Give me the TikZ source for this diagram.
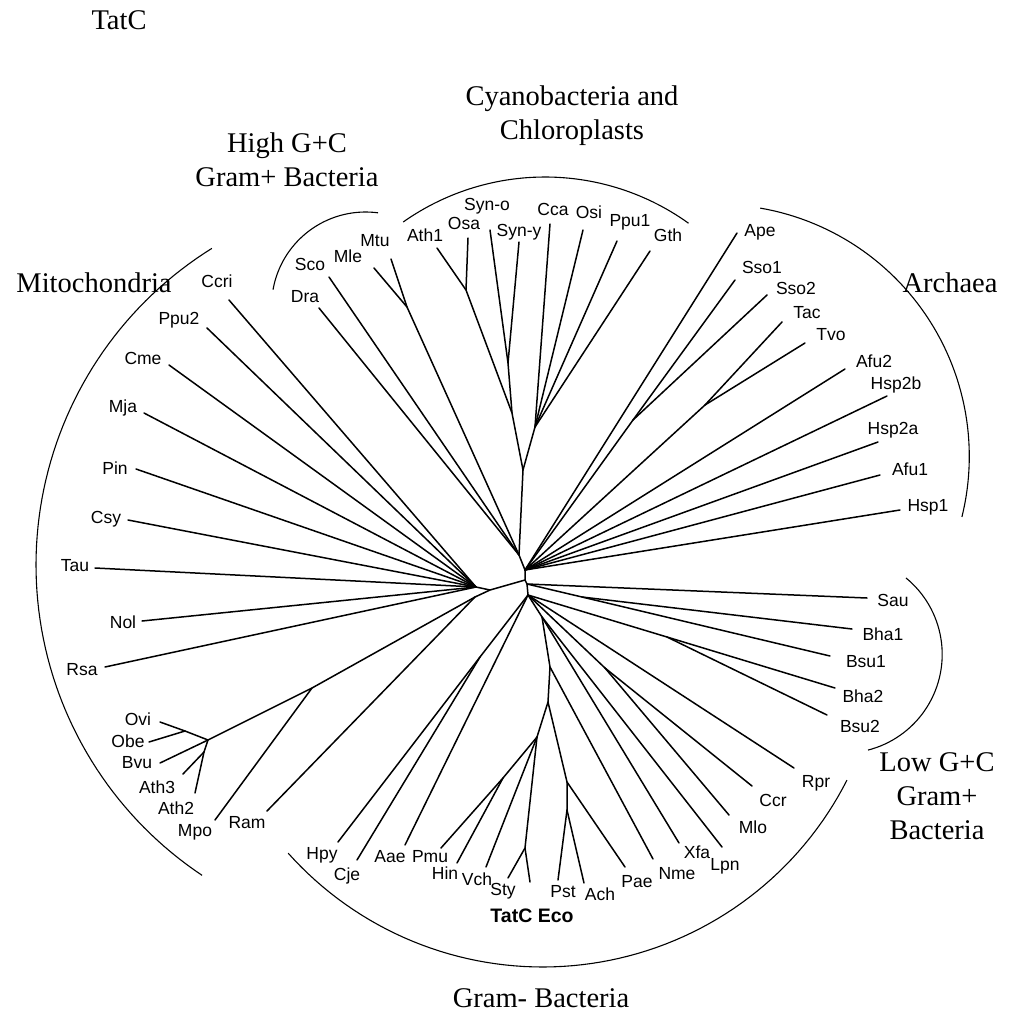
\documentclass[tikz,border=0pt]{standalone}
\usepackage{fontspec}
\setmainfont{Liberation Serif}
\newfontfamily\labfont{Liberation Sans}
\newcommand\tipnode[3]{\coordinate (t#1) at #2; \node[lbl] (#1) at #3 {#1};}
\begin{document}
\begin{tikzpicture}[x=1pt,y=-1pt,
  tree/.style={line width=1.5pt,line cap=round,line join=round},
  grp/.style={line width=1.1pt},
  lbl/.style={font=\labfont\fontsize{17.5}{20}\selectfont,inner sep=0pt},
  ttl/.style={font=\fontsize{28.5}{34}\selectfont,align=center,inner sep=0pt}]
\useasboundingbox (0,0) rectangle (1013,1018);
% internal nodes
\coordinate (C) at (523,470);
\coordinate (U) at (519,555);
\coordinate (A) at (525,570);
\coordinate (X) at (525,580);
\coordinate (X1) at (527,584);
\coordinate (Y) at (528,595);
\coordinate (L) at (490,590);
\coordinate (M) at (476,587);
\coordinate (RM) at (475,597);
\coordinate (MP) at (312,688);
\coordinate (OB) at (208,740);
\coordinate (OO) at (185,731);
\coordinate (AA) at (204,752);
\coordinate (MM) at (407,307);
\coordinate (AO) at (466,290);
\coordinate (SS) at (508,363);
\coordinate (AOS) at (512,413);
\coordinate (CG) at (535,427);
\coordinate (SSO) at (633,420);
\coordinate (TT) at (705,405);
\coordinate (HC) at (480,657);
\coordinate (T1) at (542,617);
\coordinate (T2) at (550,667);
\coordinate (N1) at (548,702);
\coordinate (G) at (537,737);
\coordinate (PH) at (503,778);
\coordinate (SE) at (525,848);
\coordinate (N2) at (567,782);
\coordinate (N3) at (567,810);
\coordinate (MC) at (605,668);
\coordinate (BB1) at (582,597);
\coordinate (BB2) at (667,637);
% tips and labels
\tipnode{Dra}{(319,308)}{(305,297)}
\tipnode{Sco}{(329,277)}{(310,264)}
\tipnode{Mle}{(374,268)}{(348,256)}
\tipnode{Mtu}{(391,259)}{(375,241)}
\tipnode{Ath1}{(437,248)}{(425,235)}
\tipnode{Osa}{(468,238)}{(464,223)}
\tipnode{Syn-o}{(490,230)}{(487,206)}
\tipnode{Syn-y}{(519,242)}{(519,232)}
\tipnode{Cca}{(550,224)}{(553,209)}
\tipnode{Osi}{(583,230)}{(589,212)}
\tipnode{Ppu1}{(617,241)}{(630,222)}
\tipnode{Gth}{(650,251)}{(668,235)}
\tipnode{Ape}{(737,233)}{(760,232)}
\tipnode{Sso1}{(735,280)}{(762,267)}
\tipnode{Sso2}{(767,295)}{(796,288)}
\tipnode{Tac}{(782,322)}{(807,313)}
\tipnode{Tvo}{(805,343)}{(831,335)}
\tipnode{Afu2}{(845,369)}{(874,361)}
\tipnode{Hsp2b}{(887,396)}{(896,385)}
\tipnode{Hsp2a}{(878,442)}{(893,430)}
\tipnode{Afu1}{(880,475)}{(910,469)}
\tipnode{Hsp1}{(900,510)}{(928,507)}
\tipnode{Sau}{(867,598)}{(893,600)}
\tipnode{Bha1}{(852,629)}{(883,634)}
\tipnode{Bsu1}{(830,656)}{(866,662)}
\tipnode{Bha2}{(835,688)}{(863,696)}
\tipnode{Bsu2}{(827,715)}{(860,726)}
\tipnode{Rpr}{(794,768)}{(816,783)}
\tipnode{Ccr}{(752,786)}{(773,800)}
\tipnode{Mlo}{(729,815)}{(753,827)}
\tipnode{Lpn}{(722,847)}{(725,866)}
\tipnode{Xfa}{(679,843)}{(697,852)}
\tipnode{Nme}{(653,859)}{(677,874)}
\tipnode{Pae}{(625,867)}{(637,882)}
\tipnode{Ach}{(584,883)}{(600,894)}
\tipnode{Pst}{(558,880)}{(563,892)}
\tipnode{Sty}{(508,878)}{(503,891)}
\tipnode{Vch}{(486,867)}{(477,879)}
\tipnode{Hin}{(457,863)}{(445,873)}
\tipnode{Pmu}{(441,848)}{(430,857)}
\tipnode{Aae}{(405,845)}{(390,857)}
\tipnode{Cje}{(357,860)}{(347,876)}
\tipnode{Hpy}{(338,842)}{(322,855)}
\tipnode{Ram}{(267,811)}{(247,823)}
\tipnode{Mpo}{(215,820)}{(195,832)}
\tipnode{Ath2}{(195,793)}{(176,808)}
\tipnode{Ath3}{(183,774)}{(157,787)}
\tipnode{Bvu}{(160,763)}{(137,763)}
\tipnode{Obe}{(149,742)}{(128,741)}
\tipnode{Ovi}{(160,722)}{(138,719)}
\tipnode{Rsa}{(105,667)}{(82,670)}
\tipnode{Nol}{(142,621)}{(123,622)}
\tipnode{Tau}{(95,568)}{(75,566)}
\tipnode{Csy}{(128,520)}{(106,519)}
\tipnode{Pin}{(136,469)}{(115,468)}
\tipnode{Mja}{(144,413)}{(123,408)}
\tipnode{Cme}{(169,365)}{(143,358)}
\tipnode{Ppu2}{(207,328)}{(179,320)}
\tipnode{Ccri}{(229,300)}{(217,281)}
\coordinate (tEco) at (530,882);
\node[lbl,font=\labfont\bfseries\fontsize{19.5}{22}\selectfont] (Eco) at (532,916) {TatC Eco};
% trunk
\draw[tree] (C) -- (U) -- (A) -- (X) -- (X1) -- (Y);
\draw[tree] (X) -- (L) -- (M);
\draw[tree] (L) -- (RM) -- (MP) -- (OB) -- (OO);
% high GC
\draw[tree] (tDra) -- (U);
\draw[tree] (tSco) -- (U);
\draw[tree] (tMle) -- (MM);
\draw[tree] (tMtu) -- (MM) -- (U);
% cyano
\draw[tree] (tAth1) -- (AO);
\draw[tree] (tOsa) -- (AO) -- (AOS);
\draw[tree] (tSyn-o) -- (SS);
\draw[tree] (tSyn-y) -- (SS) -- (AOS) -- (C);
\draw[tree] (tCca) -- (CG);
\draw[tree] (tOsi) -- (CG);
\draw[tree] (tPpu1) -- (CG);
\draw[tree] (tGth) -- (CG) -- (C);
% archaea
\draw[tree] (tSso1) -- (SSO);
\draw[tree] (tSso2) -- (SSO) -- (A);
\draw[tree] (tTac) -- (TT);
\draw[tree] (tTvo) -- (TT) -- (A);
\draw[tree] (tApe) -- (A);
\draw[tree] (tAfu2) -- (A);
\draw[tree] (tHsp2b) -- (A);
\draw[tree] (tHsp2a) -- (A);
\draw[tree] (tAfu1) -- (A);
\draw[tree] (tHsp1) -- (A);
% mitochondria
\draw[tree] (tCcri) -- (M);
\draw[tree] (tPpu2) -- (M);
\draw[tree] (tCme) -- (M);
\draw[tree] (tMja) -- (M);
\draw[tree] (tPin) -- (M);
\draw[tree] (tCsy) -- (M);
\draw[tree] (tTau) -- (M);
\draw[tree] (tNol) -- (M);
\draw[tree] (tRsa) -- (M);
\draw[tree] (tOvi) -- (OO);
\draw[tree] (tObe) -- (OO);
\draw[tree] (tBvu) -- (OB);
\draw[tree] (tAth3) -- (AA);
\draw[tree] (tAth2) -- (AA) -- (OB);
\draw[tree] (tMpo) -- (MP);
\draw[tree] (tRam) -- (RM);
% low GC
\draw[tree] (tSau) -- (X1);
\draw[tree] (tBha1) -- (BB1);
\draw[tree] (tBsu1) -- (BB1) -- (X1);
\draw[tree] (tBha2) -- (BB2);
\draw[tree] (tBsu2) -- (BB2) -- (Y);
% gram-
\draw[tree] (tHpy) -- (HC);
\draw[tree] (tCje) -- (HC) -- (Y);
\draw[tree] (tAae) -- (Y);
\draw[tree] (Y) -- (T1) -- (T2) -- (N1) -- (G);
\draw[tree] (tPmu) -- (PH);
\draw[tree] (tHin) -- (PH) -- (G);
\draw[tree] (tVch) -- (G);
\draw[tree] (tSty) -- (SE);
\draw[tree] (tEco) -- (SE) -- (G);
\draw[tree] (N1) -- (N2) -- (N3);
\draw[tree] (tPae) -- (N2);
\draw[tree] (tPst) -- (N3);
\draw[tree] (tAch) -- (N3);
\draw[tree] (tNme) -- (T2);
\draw[tree] (tXfa) -- (T1);
\draw[tree] (tLpn) -- (T1);
\draw[tree] (tMlo) -- (MC);
\draw[tree] (tCcr) -- (MC) -- (Y);
\draw[tree] (tRpr) -- (Y);
% group arcs
\draw[grp] plot[domain=123.7:238.1,samples=80] ({409+373*cos(\x)},{565+373*sin(\x)});
\draw[grp] plot[domain=-125.2:-54.3,samples=60] ({545+246*cos(\x)},{423+246*sin(\x)});
\draw[grp] plot[domain=-170:-82.4,samples=50] ({365.6+94*cos(\x)},{306+94*sin(\x)});
\draw[grp] plot[domain=-80.2:13.9,samples=60] ({717.3+252*cos(\x)},{456.4+252*sin(\x)});
\draw[grp] plot[domain=-50.7:75.6,samples=50] ({843.4+98.8*cos(\x)},{654.4+98.8*sin(\x)});
\draw[grp] plot[domain=26.9:138.2,samples=70] ({542.6+341.3*cos(\x)},{625.7+341.3*sin(\x)});
% titles
\node[ttl] (tatc) at (119,20) {TatC};
\node[ttl] (hgc) at (287,160) {High G+C\\Gram+ Bacteria};
\node[ttl] (cyan) at (572,116) {Cyanobacteria and\\Chloroplasts};
\node[ttl] (mito) at (94,283) {Mitochondria};
\node[ttl] (arch) at (950,283) {Archaea};
\node[ttl] (lgc) at (937,796) {Low G+C\\Gram+\\Bacteria};
\node[ttl] (gneg) at (541,998) {Gram- Bacteria};
\end{tikzpicture}
\end{document}
